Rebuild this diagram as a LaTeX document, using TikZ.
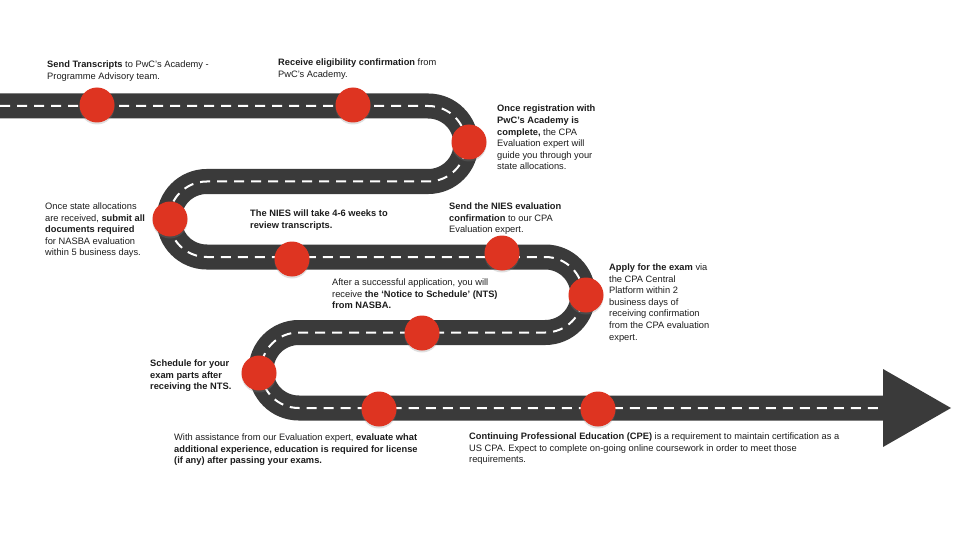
\documentclass[tikz,border=0pt]{standalone}
\usepackage{fontspec}
\setmainfont{Liberation Sans}
\usetikzlibrary{shadows}
\definecolor{roadgrey}{RGB}{58,58,58}
\definecolor{milered}{RGB}{222,52,33}
\definecolor{notetext}{RGB}{28,28,28}

\tikzset{
  milestone/.style={circle, fill=milered, minimum size=35pt, inner sep=0pt,
    drop shadow={opacity=0.25, shadow xshift=0pt, shadow yshift=-2pt}},
  note/.style={anchor=north west, align=left, inner sep=0pt, text=notetext,
    font=\fontsize{9.3}{11.6}\selectfont},
  roadbed/.style={roadgrey, line width=25pt, rounded corners=37.75pt},
  lanemark/.style={white, line width=2pt, dash pattern=on 10pt off 7pt, rounded corners=37.75pt}
}

\begin{document}
\begin{tikzpicture}[x=1pt, y=-1pt]
    \useasboundingbox (0,0) rectangle (960,540);

    % Road bends
    \coordinate (start) at (0,106);
    \coordinate (b1) at (466,106);
    \coordinate (b2) at (466,181.5);
    \coordinate (b3) at (169,181.5);
    \coordinate (b4) at (169,257);
    \coordinate (b5) at (583,257);
    \coordinate (b6) at (583,332.5);
    \coordinate (b7) at (261,332.5);
    \coordinate (b8) at (261,408);
    \coordinate (finish) at (884,408);

    % Road and lane marking
    \draw[roadbed] (start) -- (b1) -- (b2) -- (b3) -- (b4) -- (b5) -- (b6) -- (b7) -- (b8) -- (finish);
    \draw[lanemark] (start) -- (b1) -- (b2) -- (b3) -- (b4) -- (b5) -- (b6) -- (b7) -- (b8) -- (finish);
    \fill[roadgrey] (883,369) -- (951,408) -- (883,447) -- cycle;

    % Milestones
    \node[milestone] (m1) at (97,105) {};
    \node[milestone] (m2) at (353,105) {};
    \node[milestone] (m3) at (469,142) {};
    \node[milestone] (m4) at (170,219) {};
    \node[milestone] (m5) at (292,259) {};
    \node[milestone] (m6) at (502,253) {};
    \node[milestone] (m7) at (586,295) {};
    \node[milestone] (m8) at (422,333) {};
    \node[milestone] (m9) at (259,373) {};
    \node[milestone] (m10) at (379,409) {};
    \node[milestone] (m11) at (598,409) {};

    % Step descriptions
    \node[note] (n1) at (47,60.5) {\textbf{Send Transcripts} to PwC’s Academy -\\Programme Advisory team.};
    \node[note] (n2) at (278,58.5) {\textbf{Receive eligibility confirmation} from\\PwC’s Academy.};
    \node[note] (n3) at (497,105) {\textbf{Once registration with}\\\textbf{PwC’s Academy is}\\\textbf{complete,} the CPA\\Evaluation expert will\\guide you through your\\state allocations.};
    \node[note] (n4) at (45,202.5) {Once state allocations\\are received, \textbf{submit all}\\\textbf{documents required}\\for NASBA evaluation\\within 5 business days.};
    \node[note] (n5) at (250,209.5) {\textbf{The NIES will take 4-6 weeks to}\\\textbf{review transcripts.}};
    \node[note] (n6) at (449,202.5) {\textbf{Send the NIES evaluation}\\\textbf{confirmation} to our CPA\\Evaluation expert.};
    \node[note] (n7) at (332,278.5) {After a successful application, you will\\receive \textbf{the ‘Notice to Schedule’ (NTS)}\\\textbf{from NASBA.}};
    \node[note] (n8) at (609,263.5) {\textbf{Apply for the exam} via\\the CPA Central\\Platform within 2\\business days of\\receiving confirmation\\from the CPA evaluation\\expert.};
    \node[note] (n9) at (150,359.5) {\textbf{Schedule for your}\\\textbf{exam parts after}\\\textbf{receiving the NTS.}};
    \node[note] (n10) at (174,433.5) {With assistance from our Evaluation expert, \textbf{evaluate what}\\\textbf{additional experience, education is required for license}\\\textbf{(if any) after passing your exams.}};
    \node[note] (n11) at (469,432.5) {\textbf{Continuing Professional Education (CPE)} is a requirement to maintain certification as a\\US CPA. Expect to complete on-going online coursework in order to meet those\\requirements.};
\end{tikzpicture}
\end{document}
